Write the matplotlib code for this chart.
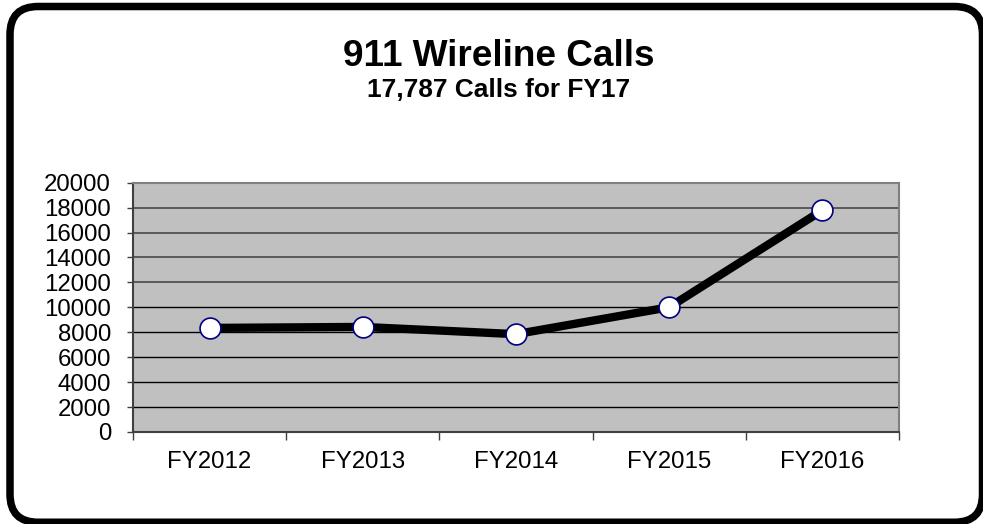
import matplotlib
matplotlib.use("Agg")
import matplotlib.pyplot as plt
from matplotlib.patches import FancyBboxPatch
from matplotlib.transforms import IdentityTransform
from matplotlib.ticker import FixedLocator

plt.rcParams['font.family'] = ['Liberation Sans', 'DejaVu Sans']

categories = ["FY2012", "FY2013", "FY2014", "FY2015", "FY2016"]
calls = [8350, 8430, 7850, 10010, 17787]
y_ticks = [0, 2000, 4000, 6000, 8000, 10000, 12000, 14000, 16000, 18000, 20000]
title = "911 Wireline Calls"
subtitle = "17,787 Calls for FY17"

W, H = 983, 524
fig = plt.figure(figsize=(W / 100, H / 100), dpi=100)
fig.patch.set_facecolor("white")

# rounded outer frame (pixel coordinates)
frame = FancyBboxPatch((10, 1.75), 972.5, 515.75,
                       boxstyle="round,pad=0,rounding_size=28",
                       transform=IdentityTransform(), facecolor="none",
                       edgecolor="black", linewidth=5.4, zorder=0)
fig.patches.append(frame)

ax = fig.add_axes([133 / W, 1 - 432 / H, (899 - 133) / W, (432 - 182.7) / H])
ax.set_facecolor("#C0C0C0")

x = list(range(len(categories)))
ax.plot(x, calls, color="black", linewidth=6, solid_joinstyle="round",
        zorder=3, clip_on=False)
ax.plot(x, calls, linestyle="none", marker="o", markersize=15,
        markerfacecolor="white", markeredgecolor="#000080",
        markeredgewidth=1.2, zorder=4, clip_on=False)

ax.set_xlim(-0.5, len(categories) - 0.5)
ax.set_ylim(0, 20000)
ax.set_yticks(y_ticks)
ax.set_yticklabels([str(v) for v in y_ticks])
ax.set_xticks(x)
ax.set_xticklabels(categories)
ax.xaxis.set_minor_locator(FixedLocator([i - 0.5 for i in range(len(categories) + 1)]))

ax.tick_params(axis="x", which="major", length=0, pad=13.5, labelsize=17.3,
               labelcolor="black")
ax.tick_params(axis="x", which="minor", length=5.8, width=1, color="#404040",
               direction="out")
ax.tick_params(axis="y", which="major", length=4.3, width=1, color="#404040",
               pad=11.5, labelsize=17.3, labelcolor="black", direction="out")

ax.set_axisbelow(True)
ax.grid(axis="y", color="black", linewidth=1.0)
for val, gl in zip(y_ticks, ax.get_ygridlines()):
    if val >= 12000:
        gl.set_color("#5a5a5a")
        gl.set_linewidth(1.4)

for side in ["top", "right"]:
    ax.spines[side].set_color("#808080")
    ax.spines[side].set_linewidth(1.5)
ax.spines["left"].set_color("#404040")
ax.spines["left"].set_linewidth(1.5)
ax.spines["bottom"].set_color("#404040")
ax.spines["bottom"].set_linewidth(1.5)

fig.text(498.5 / W, 1 - 66.5 / H, title, ha="center", va="baseline",
         fontsize=26.6, fontweight="bold", color="black")
fig.text(498.5 / W, 1 - 97.0 / H, subtitle, ha="center", va="baseline",
         fontsize=18.9, fontweight="bold", color="black")

fig.savefig("out.png", dpi=100, facecolor="white")
